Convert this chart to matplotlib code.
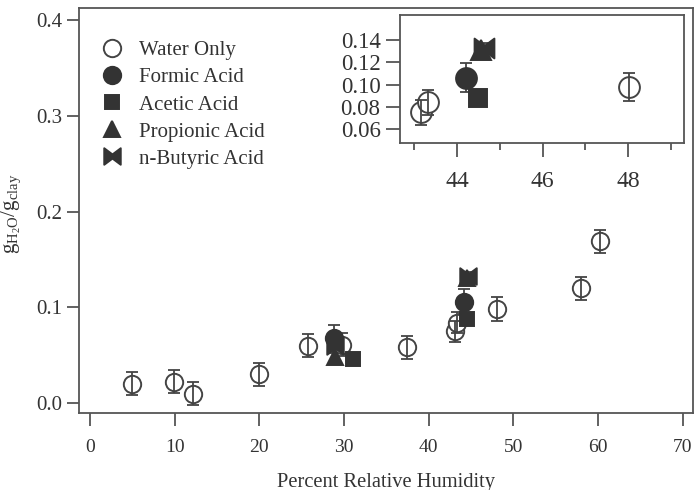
import matplotlib
matplotlib.use("Agg")
import matplotlib.pyplot as plt
from matplotlib.path import Path
import numpy as np

plt.rcParams['font.family'] = ['Liberation Serif', 'DejaVu Serif']
plt.rcParams['mathtext.fontset'] = 'custom'
plt.rcParams['mathtext.rm'] = 'Liberation Serif'
plt.rcParams['mathtext.it'] = 'Liberation Serif'

# ---- data ----
water_x = [5.0, 9.9, 12.2, 19.95, 25.7, 29.8, 37.4, 43.15, 43.33, 48.02, 58.0, 60.2]
water_y = [0.020, 0.022, 0.0095, 0.030, 0.060, 0.061, 0.058, 0.075, 0.084, 0.098, 0.120, 0.169]
water_err = [0.012, 0.012, 0.012, 0.012, 0.012, 0.012, 0.012, 0.011, 0.011, 0.0125, 0.012, 0.012]

formic_x = [28.8, 44.2]
formic_y = [0.068, 0.106]
formic_err = [0.014, 0.013]

acetic_x = [31.0, 44.5]
acetic_y = [0.046, 0.088]
acetic_err = [0.004, 0.005]

propionic_x = [28.9, 44.55]
propionic_y = [0.048, 0.131]
propionic_err = [0.004, 0.004]

butyric_x = [28.9, 44.62]
butyric_y = [0.060, 0.133]
butyric_err = [0.004, 0.004]

labels = ['Water Only', 'Formic Acid', 'Acetic Acid', 'Propionic Acid', 'n-Butyric Acid']

main_xticks = [0, 10, 20, 30, 40, 50, 60, 70]
main_yticks = [0.0, 0.1, 0.2, 0.3, 0.4]
inset_xticks = [44, 46, 48]
inset_xminor = [43, 45, 47, 49]
inset_yticks = [0.06, 0.08, 0.10, 0.12, 0.14]

# ---- styling ----
dark = '#333333'
edge = '#444444'
spine_c = '#555555'
text_c = '#333333'

bowtie = Path([(-1, -1), (-1, 1), (0, 0.25), (1, 1), (1, -1), (0, -0.25), (-1, -1)],
              [Path.MOVETO, Path.LINETO, Path.LINETO, Path.LINETO, Path.LINETO,
               Path.LINETO, Path.CLOSEPOLY])

series = [
    (water_x, water_y, water_err, 'o', 'white', edge, labels[0]),
    (formic_x, formic_y, formic_err, 'o', dark, dark, labels[1]),
    (acetic_x, acetic_y, acetic_err, 's', dark, dark, labels[2]),
    (propionic_x, propionic_y, propionic_err, '^', dark, dark, labels[3]),
    (butyric_x, butyric_y, butyric_err, bowtie, dark, dark, labels[4]),
]
msizes = {'o': 1.0, 's': 0.85, '^': 0.95}

fig = plt.figure(figsize=(6.99, 4.90), dpi=100)
ax = fig.add_axes([79/699, 1-413/490, (693-79)/699, (413-8)/490])
ins = fig.add_axes([400/699, 1-143/490, (684-400)/699, (143-15)/490])


def draw(a, base_ms, cap):
    handles = []
    for xs, ys, es, m, fc, ec, lab in series:
        ms = base_ms * (msizes.get(m, 0.85) if isinstance(m, str) else 0.95)
        if fc != 'white':
            a.errorbar(xs, ys, yerr=es, fmt='none', ecolor=edge, elinewidth=1.3,
                       capsize=cap, capthick=1.3, zorder=2)
        h, = a.plot(xs, ys, linestyle='none', marker=m, markersize=ms,
                    markerfacecolor=fc, markeredgecolor=ec, markeredgewidth=1.4,
                    zorder=3, label=lab)
        if fc == 'white':
            a.errorbar(xs, ys, yerr=es, fmt='none', ecolor=edge, elinewidth=1.3,
                       capsize=cap, capthick=1.3, zorder=3)
        handles.append(h)
    return handles


handles = draw(ax, 12.5, 4.5)
draw(ins, 15, 4.5)

for a in (ax, ins):
    for s in a.spines.values():
        s.set_color(spine_c)
        s.set_linewidth(1.3)
    a.tick_params(colors=spine_c, labelcolor=text_c, width=1.3, direction='out')
    a.tick_params(top=False, right=False)

ax.set_xlim(-1.3, 71.2)
ax.set_ylim(-0.0104, 0.4125)
ax.set_xticks(main_xticks)
ax.set_yticks(main_yticks)
ax.set_yticklabels([f'{v:.1f}' for v in main_yticks])
ax.tick_params(axis='x', length=9, pad=10, labelsize=14)
ax.tick_params(axis='y', length=9, pad=3, labelsize=15)

ins.set_xlim(42.67, 49.3)
ins.set_ylim(0.0474, 0.1625)
ins.set_xticks(inset_xticks)
ins.set_xticks(inset_xminor, minor=True)
ins.set_yticks(inset_yticks)
ins.set_yticklabels([f'{v:.2f}' for v in inset_yticks])
ins.tick_params(axis='x', which='major', length=10, pad=10, labelsize=17)
ins.tick_params(axis='x', which='minor', length=5, width=1.3, colors=spine_c)
ins.tick_params(axis='y', length=10, pad=4, labelsize=16.5)

leg = ax.legend(handles=handles, loc='upper left', bbox_to_anchor=(0.016, 0.95),
                frameon=False, fontsize=15, handlelength=1.0, handletextpad=0.8,
                labelspacing=0.36, borderaxespad=0.2, labelcolor=text_c,
                markerscale=1.0)

fig.text(386/699, 1-482/490, 'Percent Relative Humidity', ha='center', va='center',
         fontsize=14.8, color=text_c)
fig.text(11/699, 1-214/490, r'$\mathrm{g_{H_2O}/g_{clay}}$', rotation=90,
         ha='center', va='center', fontsize=15, color=text_c)

fig.savefig('out.png', dpi=100)
